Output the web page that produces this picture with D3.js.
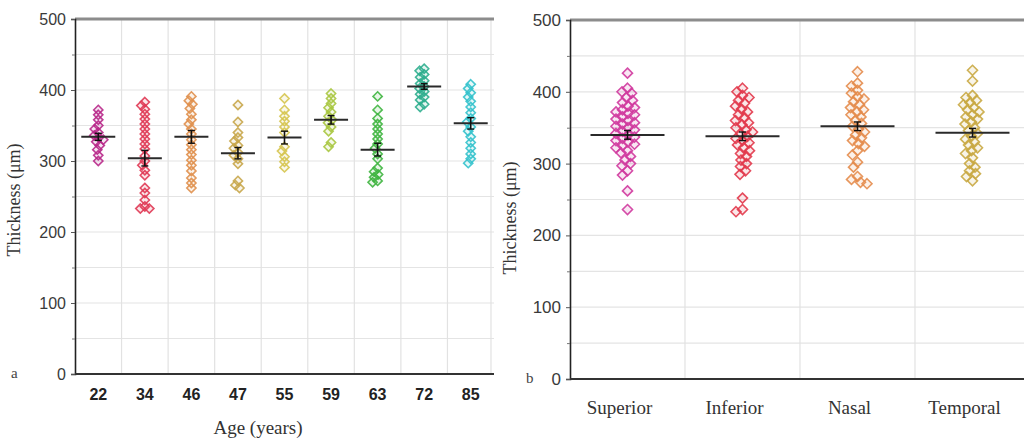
<!DOCTYPE html>
<html><head><meta charset="utf-8">
<script src="https://cdn.jsdelivr.net/npm/d3@7"></script>
<style>body{margin:0;background:#fff;}svg{display:block;}</style>
</head><body>
<svg id="c" width="1024" height="445"></svg>
<script>
// ---------- data ----------
const ageCats = ["22","34","46","47","55","59","63","72","85"];
const ageColors = ["#b8288a","#e03a55","#e0904e","#c8a64a","#d6c550","#a8c640","#3fb540","#2fae8e","#34c2cc"];
const age22 = [372,365,358,350,345,340,336,333,330,327,322,316,308,300];
const age34 = [383,378,373,366,359,352,345,338,331,324,317,307,300,294,287,280,262,255,245,236,233,233];
const age46 = [391,385,380,374,366,358,352,345,338,330,323,316,309,301,294,286,276,269,262];
const age47 = [379,355,340,333,328,322,318,312,308,303,296,272,266,262];
const age55 = [388,372,363,356,348,340,320,314,306,299,291];
const age59 = [395,388,381,375,369,363,358,354,348,342,326,320];
const age63 = [391,372,360,352,345,338,331,324,318,310,303,290,285,281,277,272,270];
const age72 = [430,427,422,418,413,409,405,402,398,394,390,386,380,376];
const age85 = [408,402,396,390,384,376,368,360,355,348,342,334,326,318,310,303,297];
const ageValues = [age22,age34,age46,age47,age55,age59,age63,age72,age85];
const ageMeans = [334,304,334,311,333,358,316,405,353];
const ageSEM = [5,11,9,8,9,6,9,4,8];

const regionCats = ["Superior","Inferior","Nasal","Temporal"];
const regionColors = ["#d03a9e","#e23a4c","#e48c4c","#c9a843"];
const superior = [426,405,400,398,392,388,385,380,378,375,372,370,368,365,362,360,357,355,352,350,347,345,342,340,337,335,332,330,327,325,322,318,315,310,305,300,297,290,284,262,236];
const inferior = [405,400,395,392,388,384,380,376,372,368,364,360,357,354,350,347,344,341,338,335,332,329,326,322,318,314,310,305,300,296,290,285,252,236,233];
const nasal = [428,412,408,402,398,393,390,386,382,378,375,372,368,365,360,356,352,348,344,340,336,332,328,324,318,312,302,295,282,278,274,272];
const temporal = [430,415,395,392,388,385,382,378,375,372,368,365,362,358,355,350,346,342,338,334,330,326,322,318,314,308,300,295,290,286,282,276];
const regionValues = [superior,inferior,nasal,temporal];
const regionMeans = [340,338,352,343];
const regionSEM = [6,6,6,6];

const yTicks = [0,100,200,300,400,500];
const yMinor = [50,150,250,350,450];

// ---------- drawing ----------
const svg = d3.select("#c");
svg.append("rect").attr("width",1024).attr("height",445).attr("fill","#fff");

function dodge(vals, y, cx, d){
  const pts = vals.map(v=>({v, py:y(v)})).sort((a,b)=>a.py-b.py);
  const placed = [];
  for(const p of pts){
    let off = 0;
    for(let k=0;k<400;k++){
      const o = (k%2===0?1:-1)*Math.ceil(k/2)*0.5;
      const ok = placed.every(q=>{const dx=(cx+o)-q.px, dy=p.py-q.py; return dx*dx+dy*dy>=d*d;});
      if(ok){off=o;break;}
    }
    p.px = cx+off; placed.push(p);
  }
  return placed;
}

function panel(opt){
  const g = svg.append("g");
  const x = d3.scaleBand().domain(opt.cats).range([opt.x0, opt.x1]).padding(0);
  const y = d3.scaleLinear().domain([0,500]).range([opt.yb, opt.yt]);
  const right = Math.min(opt.x1, 1024);
  // grid
  g.selectAll(".hg").data(yMinor.concat([100,200,300,400])).join("line")
    .attr("x1",opt.x0).attr("x2",right).attr("y1",d=>y(d)).attr("y2",d=>y(d))
    .attr("stroke","#e4e4e4").attr("stroke-width",1.2);
  g.selectAll(".vg").data(opt.cats.slice(1).concat(opt.lastGrid?["__end"]:[])).join("line")
    .attr("x1",d=>d==="__end"?opt.x1-3:x(d)).attr("x2",d=>d==="__end"?opt.x1-3:x(d))
    .attr("y1",opt.yt).attr("y2",opt.yb)
    .attr("stroke","#e2e2e2").attr("stroke-width",1.2);
  // top border
  g.append("line").attr("x1",opt.x0).attr("x2",right).attr("y1",opt.yt).attr("y2",opt.yt)
    .attr("stroke","#8c8c8c").attr("stroke-width",3);
  // y axis
  const ya = g.append("g").attr("transform",`translate(${opt.x0},0)`)
    .call(d3.axisLeft(y).tickValues(yTicks).tickSize(4).tickPadding(5).tickFormat(d3.format("d")));
  ya.select(".domain").attr("stroke","#222").attr("stroke-width",1.6);
  ya.selectAll(".tick line").attr("stroke","#555");
  ya.selectAll(".tick text").attr("font-family","Liberation Sans, Arial, sans-serif")
    .attr("font-size",opt.tickFs).attr("fill","#3a3a3a");
  g.append("g").attr("transform",`translate(${opt.x0},0)`)
    .call(d3.axisLeft(y).tickValues(yMinor).tickSize(3).tickFormat(""))
    .call(s=>s.select(".domain").remove())
    .selectAll("line").attr("stroke","#777");
  // x axis
  const xa = g.append("g").attr("transform",`translate(0,${opt.yb})`)
    .call(d3.axisBottom(x).tickSize(0).tickPadding(opt.xPad));
  xa.select(".domain").attr("stroke","#333").attr("stroke-width",2.2)
    .attr("d",`M${opt.x0},0H${right}`);
  xa.selectAll(".tick text").attr("font-family",opt.xFont).attr("font-weight",opt.xWeight)
    .attr("font-size",opt.xFs).attr("fill",opt.xFill).attr("dx",opt.xDx||0);
  // points
  opt.values.forEach((vals,i)=>{
    const cx = x(opt.cats[i]) + x.bandwidth()/2;
    const pts = dodge(vals, y, cx, opt.dd);
    const col = opt.colors[i];
    const r = opt.r;
    g.append("g").selectAll("path").data(pts).join("path")
      .attr("d",p=>`M${p.px},${p.py-r}L${p.px+r},${p.py}L${p.px},${p.py+r}L${p.px-r},${p.py}Z`)
      .attr("fill",col).attr("fill-opacity",0.12)
      .attr("stroke",col).attr("stroke-width",1.6).attr("stroke-opacity",0.9);
    const m = opt.means[i], s = opt.sem[i];
    g.append("line").attr("x1",cx-opt.mw).attr("x2",cx+opt.mw).attr("y1",y(m)).attr("y2",y(m))
      .attr("stroke","#2a2a2a").attr("stroke-width",2);
    g.append("line").attr("x1",cx).attr("x2",cx).attr("y1",y(m-s)).attr("y2",y(m+s))
      .attr("stroke","#111").attr("stroke-width",1.6);
    [m-s,m+s].forEach(v=>g.append("line").attr("x1",cx-3.5).attr("x2",cx+3.5).attr("y1",y(v)).attr("y2",y(v))
      .attr("stroke","#111").attr("stroke-width",1.4));
  });
  // panel letter
  g.append("text").attr("x",opt.letterX).attr("y",opt.yb+4).text(opt.letter)
    .attr("font-family","Liberation Serif, serif").attr("font-size",15).attr("fill","#444");
  // y title
  g.append("text").attr("transform",`translate(${opt.ytX},${opt.ytY}) rotate(-90)`)
    .attr("text-anchor","middle").text("Thickness (μm)")
    .attr("font-family","Liberation Serif, serif").attr("font-size",18).attr("fill","#333");
  return {x,y};
}

panel({cats:ageCats, values:ageValues, colors:ageColors, means:ageMeans, sem:ageSEM,
  x0:75, x1:494, yb:374, yt:19, tickFs:16, xPad:15, xFont:"Liberation Sans, Arial, sans-serif",
  xWeight:"bold", xFs:16, xFill:"#222", r:4.6, dd:4.8, mw:17, letter:"a", letterX:11,
  ytX:20, ytY:200, lastGrid:true});
panel({cats:regionCats, values:regionValues, colors:regionColors, means:regionMeans, sem:regionSEM,
  x0:570, x1:1030, yb:379, yt:20, tickFs:17, xPad:22, xFont:"Liberation Serif, serif",
  xWeight:"normal", xFs:19, xFill:"#333", xDx:-8, r:5, dd:6.4, mw:37, letter:"b", letterX:526,
  ytX:516, ytY:218, lastGrid:false});

svg.append("text").attr("x",258).attr("y",434).attr("text-anchor","middle").text("Age (years)")
  .attr("font-family","Liberation Serif, serif").attr("font-size",19).attr("fill","#333");
</script>
</body></html>
